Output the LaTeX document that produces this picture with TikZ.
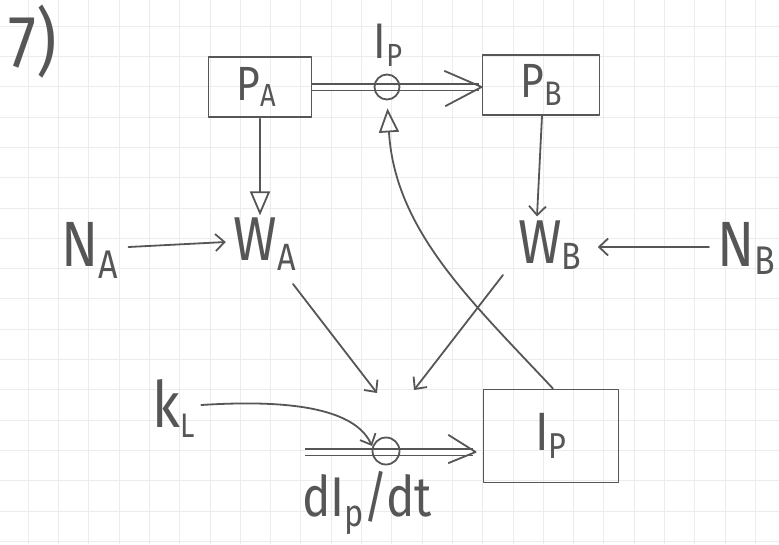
\documentclass[tikz,border=0pt]{standalone}
\usepackage{fontspec}
\setmainfont{Fira Sans}[FakeStretch=0.85]
\usetikzlibrary{arrows.meta,calc}
\definecolor{pencil}{HTML}{565656}
\definecolor{gridc}{HTML}{ECECEC}
\newcommand\lowtxt[3]{\raisebox{-#1}{\fontsize{#2}{#2}\selectfont #3}}
\newcommand\bigtxt[2]{{\fontsize{#1}{#1}\selectfont #2}}
\begin{document}
\begin{tikzpicture}[x=1pt,y=-1pt,
  pencil line/.style={draw=pencil, line width=1.8pt, line cap=round, line join=round},
  stock/.style={pencil line, rectangle, inner sep=0pt, text=pencil},
  lbl/.style={text=pencil, inner sep=0pt},
  thin arrow/.style={pencil line, -{Straight Barb[length=9pt,width=17pt]}},
  open tri/.style={pencil line, -{Triangle[open, length=24pt, width=20pt]}},
  flow/.style={draw=pencil, line width=1.5pt, double=white, double distance=5pt},
  valve/.style={circle, pencil line, minimum size=25pt, inner sep=0pt},
  chev/.style={pencil line}]
\useasboundingbox (0,0) rectangle (779,544);
% paper grid
\foreach \i in {0,...,24} \draw[gridc, line width=0.6pt] ({28+30.3*\i},0) -- ({28+30.3*\i},544);
\foreach \i in {0,...,17} \draw[gridc, line width=0.6pt] (0,{26+30.3*\i}) -- (779,{26+30.3*\i});

% nodes
\node[lbl] (seven) at (33,42) {\bigtxt{74}{7)}};
\node[stock, minimum width=103pt, minimum height=60pt] (pa) at (260,87) {\bigtxt{48}{P}\lowtxt{6pt}{32}{A}\hspace*{8pt}};
\node[stock, minimum width=117pt, minimum height=60pt] (pb) at (541,85) {\bigtxt{48}{P}\lowtxt{8pt}{34}{B}};
\node[stock, minimum width=135pt, minimum height=93pt] (ip) at (551,436) {\bigtxt{54}{I}\lowtxt{8pt}{36}{P}};
\node[lbl] (iptop) at (388,45) {\bigtxt{50}{I}\lowtxt{8pt}{32}{P}};
\node[lbl] (na) at (90,250) {\bigtxt{64}{N}\lowtxt{12pt}{40}{A}};
\node[lbl] (wa) at (265,244) {\bigtxt{62}{W}\lowtxt{10pt}{38}{A}};
\node[lbl] (wb) at (550,245) {\bigtxt{62}{W}\lowtxt{6pt}{38}{B}};
\node[lbl] (nb) at (746,248) {\bigtxt{64}{N}\lowtxt{8pt}{40}{B}};
\node[lbl] (kl) at (174,408) {\bigtxt{64}{k}\lowtxt{10pt}{34}{L}};
\node[lbl] (dipdt) at (367,503) {\bigtxt{56}{dI}\lowtxt{10pt}{38}{p}\bigtxt{56}{/dt}};

% flows (double pipes)
\coordinate (ttip) at (pa.east -| pb.west);
\draw[flow] (pa.east) -- ($(ttip)+(-3,0)$);
\draw[chev] ($(ttip)+(-37,-16)$) -- (ttip) -- ($(ttip)+(-36,19)$);
\node[valve] (vt) at (387,87) {};

\coordinate (bstart) at (305,452);
\coordinate (btip) at ($(bstart -| ip.west)+(-7,0)$);
\draw[flow] (bstart) -- ($(btip)+(-3,0)$);
\draw[chev] ($(btip)+(-27,-17)$) -- (btip) -- ($(btip)+(-27,11)$);
\node[valve, minimum size=27pt] (vb) at (386,451) {};

% information links
\draw[open tri, shorten <=1pt] (pa.south) -- ($(pa.south |- wa.north)+(0,-2)$);
\draw[thin arrow] ($(pb.south)+(1,0)$) -- ($(wb.north)+(-13,-4)$);
\draw[thin arrow] ($(na.east)+(10,-3)$) -- ($(wa.west)+(-8,-2)$);
\draw[thin arrow] ($(nb.west)+(-8,-1)$) -- ($(wb.east)+(16,2)$);
\draw[thin arrow] ($(wa)+(28,40)$) -- ($(vb)+(-9,-58)$);
\draw[thin arrow] ($(wb)+(-47,30)$) -- ($(vb)+(28,-61)$);
\draw[open tri, shorten >=8pt] ($(ip.north)+(2,0)$) .. controls (470,300) and (395,230) .. (vt.south);
\draw[thin arrow] ($(kl.east)+(6,-3)$) .. controls (310,398) and (358,415) .. ($(vb)+(-14,-5)$);
\end{tikzpicture}
\end{document}
